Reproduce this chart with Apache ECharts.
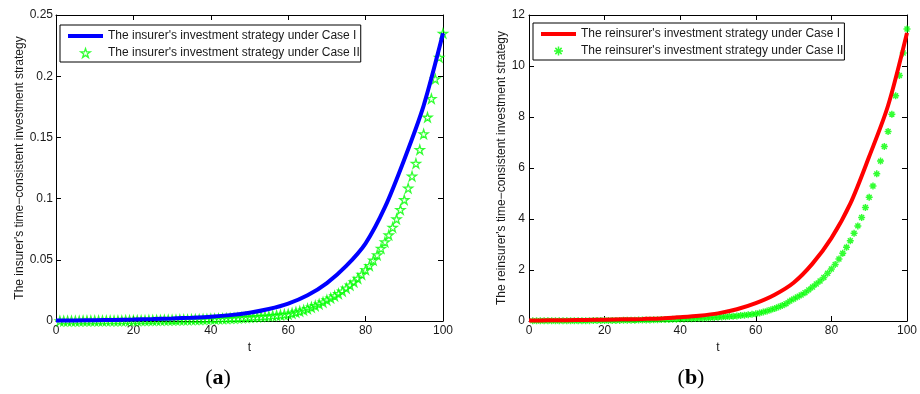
<!DOCTYPE html>
<html><head><meta charset="utf-8">
<script src="https://cdn.jsdelivr.net/npm/echarts@6/dist/echarts.min.js"></script>
<style>html,body{margin:0;padding:0;background:#fff}#c{width:920px;height:394px}</style>
</head><body><div id="c"></div>
<script>
// ---- data ----
const tLine = [0,5,10,15,20,25,30,35,40,45,50,55,60,65,70,75,80,85,90,95,100];
const insurerCase1 = [0.0004,0.0005,0.0007,0.0009,0.0012,0.0016,0.0021,0.0027,0.0035,0.0048,0.0068,0.0098,0.0142,0.021,0.031,0.045,0.0635,0.093,0.132,0.176,0.235];
const reinsurerCase1 = [0.02,0.025,0.03,0.04,0.05,0.065,0.08,0.10,0.15,0.21,0.30,0.46,0.70,1.03,1.5,2.25,3.25,4.6,6.45,8.45,11.3];

const tMarks = [1,2,3,4,5,6,7,8,9,10,11,12,13,14,15,16,17,18,19,20,
  21,22,23,24,25,26,27,28,29,30,31,32,33,34,35,36,37,38,39,40,
  41,42,43,44,45,46,47,48,49,50,51,52,53,54,55,56,57,58,59,60,
  61,62,63,64,65,66,67,68,69,70,71,72,73,74,75,76,77,78,79,80,
  81,82,83,84,85,86,87,88,89,90,91,92,93,94,95,96,97,98,99,100];
const insurerCase2 = [
  0.0001,0.0001,0.0001,0.0001,0.0001,0.0001,0.0002,0.0002,0.0002,0.0002,
  0.0002,0.0002,0.0003,0.0003,0.0003,0.0003,0.0003,0.0004,0.0004,0.0004,
  0.0005,0.0005,0.0005,0.0006,0.0006,0.0007,0.0007,0.0008,0.0008,0.0009,
  0.0009,0.0010,0.0010,0.0011,0.0012,0.0013,0.0013,0.0014,0.0015,0.0016,
  0.0017,0.0018,0.0019,0.0020,0.0022,0.0023,0.0025,0.0027,0.0029,0.0030,
  0.0032,0.0034,0.0036,0.0038,0.0040,0.0043,0.0046,0.0049,0.0053,0.0056,
  0.0063,0.0071,0.0079,0.0089,0.0100,0.0112,0.0124,0.0138,0.0154,0.0171,
  0.0187,0.0205,0.0222,0.0244,0.0268,0.0292,0.0318,0.0347,0.0381,0.0418,
  0.0452,0.0496,0.0540,0.0592,0.0646,0.0702,0.0765,0.0833,0.0910,0.0990,
  0.1085,0.1183,0.1287,0.1400,0.1528,0.1664,0.1816,0.1977,0.2154,0.2350];
const reinsurerCase2 = [
  0.005,0.005,0.006,0.006,0.007,0.007,0.008,0.008,0.009,0.009,
  0.010,0.011,0.012,0.012,0.013,0.014,0.015,0.016,0.017,0.018,
  0.020,0.021,0.023,0.024,0.026,0.028,0.030,0.032,0.035,0.037,
  0.040,0.043,0.046,0.050,0.054,0.058,0.062,0.067,0.072,0.078,
  0.083,0.088,0.093,0.098,0.105,0.112,0.120,0.130,0.140,0.150,
  0.160,0.170,0.180,0.190,0.200,0.215,0.230,0.245,0.260,0.280,
  0.31,0.35,0.39,0.44,0.49,0.55,0.61,0.68,0.78,0.86,
  0.94,1.02,1.11,1.22,1.33,1.45,1.57,1.71,1.87,2.04,
  2.22,2.43,2.66,2.89,3.15,3.44,3.73,4.06,4.45,4.85,
  5.29,5.77,6.27,6.84,7.43,8.11,8.83,9.63,10.51,11.45];

const names = [
  "The insurer's investment strategy under Case I",
  "The insurer's investment strategy under Case II",
  "The reinsurer's investment strategy under Case I",
  "The reinsurer's investment strategy under Case II"
];
const yNames = [
  "The insurer's time\u2212consistent investment strategy",
  "The reinsurer's time\u2212consistent investment strategy"
];
const xName = 't';
const captions = ['a', 'b'];

// ---- styling ----
const FONT = 'Liberation Sans, Arial, Helvetica, sans-serif';
const TXT = '#1a1a1a';
const STAR = 'path://M50 0 L61.17 34.63 L97.55 34.55 L68.07 55.87 L79.39 90.45 L50 69 L20.61 90.45 L31.93 55.87 L2.45 34.55 L38.83 34.63 Z';
const ASTER = 'path://M50 0 L50 100 M0 50 L100 50 M15 15 L85 85 M85 15 L15 85';
const BAR = 'path://M0 0 L36 0 L36 4 L0 4 Z';

function pairs(xs, ys){ return xs.map((x,i)=>[x, ys[i]]); }

function xAx(grid, main){
  return {
    type:'value', gridIndex:grid, min:0, max:100, interval:20,
    position: main ? 'bottom' : 'top',
    name: main ? xName : '', nameLocation:'middle', nameGap:19,
    nameTextStyle:{fontFamily:FONT, fontSize:12, color:TXT},
    axisLine:{show:true, onZero:false, lineStyle:{color:'#000', width:1}},
    axisTick:{show:true, inside:true, length:5, lineStyle:{color:'#000'}},
    axisLabel:{show:main, margin:4, fontFamily:FONT, fontSize:12, color:TXT},
    splitLine:{show:false}
  };
}
function yAx(grid, main, max, interval, gap, margin){
  return {
    type:'value', gridIndex:grid, min:0, max:max, interval:interval,
    position: main ? 'left' : 'right',
    name: main ? yNames[grid] : '', nameLocation:'middle', nameGap:gap,
    nameTextStyle:{fontFamily:FONT, fontSize:12, color:TXT},
    axisLine:{show:true, onZero:false, lineStyle:{color:'#000', width:1}},
    axisTick:{show:true, inside:true, length:5, lineStyle:{color:'#000'}},
    axisLabel:{show:main, margin:margin, fontFamily:FONT, fontSize:12, color:TXT},
    splitLine:{show:false}
  };
}
function legend(left, top, data){
  return {
    left:left, top:top, orient:'vertical', data:data,
    backgroundColor:'#fff', borderColor:'#000', borderWidth:1, borderRadius:0,
    padding:[5,1,3,8], itemGap:5, itemWidth:35, itemHeight:9,
    textStyle:{fontFamily:FONT, fontSize:12, color:TXT},
    selectedMode:false
  };
}

const option = {
  animation:false,
  backgroundColor:'#fff',
  grid:[
    {left:56, right:477, top:15, bottom:73},
    {left:529, right:4, top:15, bottom:73}
  ],
  xAxis:[xAx(0,true), xAx(0,false), xAx(1,true), xAx(1,false)],
  yAxis:[yAx(0,true,0.25,0.05,30,3), yAx(0,false,0.25,0.05,30,3),
         yAx(1,true,12,2,20,4), yAx(1,false,12,2,20,4)],
  legend:[
    legend(60,25,[
      {name:names[0], icon:BAR, itemStyle:{color:'#0000ff', borderWidth:0}},
      {name:names[1], icon:STAR, itemStyle:{color:'rgba(255,255,255,0)', borderColor:'#00ff00', borderWidth:1.3}}
    ]),
    legend(533,23,[
      {name:names[2], icon:BAR, itemStyle:{color:'#ff0000', borderWidth:0}},
      {name:names[3], icon:ASTER, itemStyle:{color:'#00ff00', borderColor:'#00ff00', borderWidth:1.5}}
    ])
  ],
  series:[
    {name:names[0], type:'line', xAxisIndex:0, yAxisIndex:0, data:pairs(tLine, insurerCase1),
     symbol:'none', smooth:0.3, lineStyle:{color:'#0000ff', width:4}, itemStyle:{color:'#0000ff'}},
    {name:names[1], type:'scatter', xAxisIndex:0, yAxisIndex:0, data:pairs(tMarks, insurerCase2),
     symbol:STAR, symbolSize:9, itemStyle:{color:'rgba(255,255,255,0)', borderColor:'#00ff00', borderWidth:1.3}},
    {name:names[2], type:'line', xAxisIndex:2, yAxisIndex:2, data:pairs(tLine, reinsurerCase1),
     symbol:'none', smooth:0.3, lineStyle:{color:'#ff0000', width:4}, itemStyle:{color:'#ff0000'}},
    {name:names[3], type:'scatter', xAxisIndex:2, yAxisIndex:2, data:pairs(tMarks, reinsurerCase2),
     symbol:ASTER, symbolSize:7, itemStyle:{color:'#00ff00', borderColor:'#00ff00', borderWidth:1.5}}
  ],
  graphic:[
    {type:'text', x:218, y:378, style:{text:'{p|(}{b|'+captions[0]+'}{p|)}', align:'center', verticalAlign:'middle',
      rich:{p:{fontFamily:'Liberation Serif, DejaVu Serif, serif', fontSize:22, fill:'#000'},
            b:{fontFamily:'Liberation Serif, DejaVu Serif, serif', fontSize:22, fontWeight:'bold', fill:'#000'}}}},
    {type:'text', x:691, y:378, style:{text:'{p|(}{b|'+captions[1]+'}{p|)}', align:'center', verticalAlign:'middle',
      rich:{p:{fontFamily:'Liberation Serif, DejaVu Serif, serif', fontSize:22, fill:'#000'},
            b:{fontFamily:'Liberation Serif, DejaVu Serif, serif', fontSize:22, fontWeight:'bold', fill:'#000'}}}}
  ]
};
const chart = echarts.init(document.getElementById('c'), null, {renderer:'canvas'});
chart.setOption(option);
</script>
</body></html>
